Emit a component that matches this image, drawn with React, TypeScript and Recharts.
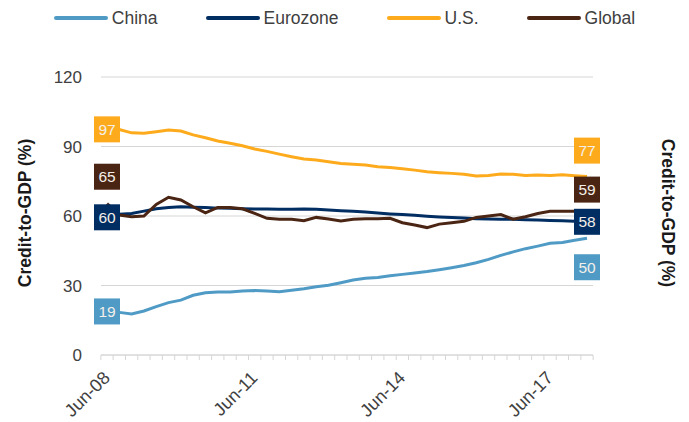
import { LineChart, Line, XAxis, YAxis, CartesianGrid, Label } from "recharts";

const quarters = [
  "Jun-08", "Sep-08", "Dec-08", "Mar-09", "Jun-09", "Sep-09", "Dec-09", "Mar-10",
  "Jun-10", "Sep-10", "Dec-10", "Mar-11", "Jun-11", "Sep-11", "Dec-11", "Mar-12",
  "Jun-12", "Sep-12", "Dec-12", "Mar-13", "Jun-13", "Sep-13", "Dec-13", "Mar-14",
  "Jun-14", "Sep-14", "Dec-14", "Mar-15", "Jun-15", "Sep-15", "Dec-15", "Mar-16",
  "Jun-16", "Sep-16", "Dec-16", "Mar-17", "Jun-17", "Sep-17", "Dec-17", "Mar-18",
];
const xTickLabels = ["Jun-08", "Jun-11", "Jun-14", "Jun-17"];
const yTicks = [0, 30, 60, 90, 120];

const china = [
  18.8, 18.4, 17.7, 19.0, 20.9, 22.6, 23.7, 25.8, 26.9, 27.2, 27.2, 27.6, 27.8,
  27.6, 27.3, 27.9, 28.6, 29.5, 30.1, 31.2, 32.4, 33.1, 33.5, 34.2, 34.8, 35.4, 36.0,
  36.8, 37.7, 38.6, 39.8, 41.3, 43.0, 44.5, 45.9, 47.0, 48.2, 48.6, 49.5, 50.4,
];
const eurozone = [
  60.3, 60.8, 61.1, 62.1, 63.1, 63.7, 64.0, 63.8, 63.7, 63.4, 63.3, 63.1, 63.0,
  63.0, 62.9, 62.9, 63.0, 62.9, 62.6, 62.3, 62.0, 61.7, 61.3, 60.9, 60.6, 60.3, 59.9,
  59.6, 59.4, 59.1, 58.8, 58.7, 58.6, 58.6, 58.4, 58.3, 58.1, 58.0, 57.7, 57.5,
];
const us = [
  97.4, 97.3, 95.9, 95.7, 96.4, 97.1, 96.7, 95.0, 93.8, 92.4, 91.4, 90.3, 88.9,
  87.9, 86.7, 85.6, 84.6, 84.2, 83.4, 82.7, 82.3, 82.0, 81.3, 80.9, 80.4, 79.8, 79.1,
  78.7, 78.4, 78.0, 77.3, 77.5, 78.1, 78.0, 77.5, 77.7, 77.5, 77.8, 77.4, 77.0,
];
const global = [
  65.3, 60.4, 59.7, 60.0, 65.0, 68.1, 66.9, 64.0, 61.4, 63.7, 63.7, 63.1, 61.1,
  59.0, 58.6, 58.6, 58.0, 59.4, 58.7, 57.8, 58.6, 58.8, 58.8, 59.0, 57.1, 56.1, 55.0,
  56.5, 57.1, 57.7, 59.4, 60.0, 60.6, 58.6, 59.7, 61.1, 62.0, 62.1, 62.0, 61.9,
];

const seriesNames = ["China", "Eurozone", "U.S.", "Global"];
const startLabels = ["19", "60", "97", "65"];
const endLabels = ["50", "58", "77", "59"];

const data = quarters.map((q, i) => ({
  q,
  china: china[i],
  eurozone: eurozone[i],
  us: us[i],
  global: global[i],
}));

// styling: colour and how far each end box is pushed off its point (px)
const series = [
  { key: "china", color: "#4f9bc6", startNudge: 0, endNudge: 29 },
  { key: "eurozone", color: "#002d62", startNudge: 2, endNudge: 0 },
  { key: "us", color: "#fdab1c", startNudge: 0, endNudge: -26 },
  { key: "global", color: "#4a2513", startNudge: -27, endNudge: -22 },
];

const FONT = '"Liberation Sans", Arial, sans-serif';
const TEXT = "#404040";
const GRID = "#d6d6d6";
const STEP = 480 / 39;

function XTick(props: any) {
  const { x, y, payload, index } = props;
  const last = index === quarters.length - 1;
  const show = xTickLabels.includes(payload.value);
  const tx = x + 4;
  const ty = y + 24;
  return (
    <g>
      <line x1={x - STEP / 2} x2={x - STEP / 2} y1={y} y2={y + 5} stroke={GRID} />
      {last && <line x1={x + STEP / 2} x2={x + STEP / 2} y1={y} y2={y + 5} stroke={GRID} />}
      {show && (
        <text
          x={tx}
          y={ty}
          textAnchor="end"
          transform={`rotate(-45 ${tx} ${ty})`}
          fontSize={18}
          fontFamily={FONT}
          fill={TEXT}
        >
          {payload.value}
        </text>
      )}
    </g>
  );
}

const endBox = (si: number) => (props: any) => {
  const { cx, cy, index } = props;
  const s = series[si];
  const lastIdx = quarters.length - 1;
  if (index !== 0 && index !== lastIdx) return <g key={`b-${si}-${index}`} />;
  const text = index === 0 ? startLabels[si] : endLabels[si];
  const y = cy + (index === 0 ? s.startNudge : s.endNudge);
  return (
    <g key={`b-${si}-${index}`}>
      <rect x={cx - 13} y={y - 13} width={26} height={26} fill={s.color} />
      <text
        x={cx}
        y={y}
        dy="0.36em"
        textAnchor="middle"
        fontSize={15.5}
        fontFamily={FONT}
        fill="#f4efe9"
      >
        {text}
      </text>
    </g>
  );
};

function AxisTitle({ viewBox, side }: any) {
  const cx = side === "left" ? viewBox.x + 25 : viewBox.x + 75;
  const cy = 213;
  const angle = side === "left" ? -90 : 90;
  return (
    <text
      x={cx}
      y={cy}
      dy="0.35em"
      textAnchor="middle"
      transform={`rotate(${angle} ${cx} ${cy})`}
      fontSize={17.5}
      fontWeight="bold"
      fontFamily={FONT}
      fill="#1a1a1a"
    >
      Credit-to-GDP (%)
    </text>
  );
}

function LegendRow() {
  return (
    <div
      style={{
        position: "absolute",
        top: 7,
        left: 0,
        width: 689,
        display: "flex",
        justifyContent: "center",
        fontFamily: FONT,
        fontSize: 17.5,
        color: TEXT,
        lineHeight: "22px",
      }}
    >
      {series.map((s, i) => (
        <div
          key={s.key}
          style={{ display: "flex", alignItems: "center", marginRight: i < series.length - 1 ? 48 : 0 }}
        >
          <span
            style={{
              display: "inline-block",
              width: 54,
              height: 4,
              borderRadius: 2,
              background: s.color,
              marginRight: 4,
            }}
          />
          <span>{seriesNames[i]}</span>
        </div>
      ))}
    </div>
  );
}

export default function App() {
  return (
    <div style={{ position: "absolute", left: 0, top: 0, width: 689, height: 422, background: "#fff", overflow: "hidden" }}>
      <LineChart
        width={689}
        height={422}
        data={data}
        margin={{ top: 77, right: 0, bottom: 0, left: 0 }}
      >
        <CartesianGrid horizontal vertical={false} stroke={GRID} yAxisId="left" />
        <XAxis
          dataKey="q"
          height={67}
          interval={0}
          padding={{ left: 6, right: 6 }}
          tickLine={false}
          tickSize={0}
          tickMargin={0}
          axisLine={{ stroke: GRID }}
          tick={<XTick />}
        />
        <YAxis
          yAxisId="left"
          width={101}
          domain={[0, 120]}
          ticks={yTicks}
          axisLine={false}
          tickLine={false}
          tickSize={0}
          tickMargin={19}
          tick={{ fontSize: 17, fontFamily: FONT, fill: TEXT }}
        >
          <Label content={(p: any) => <AxisTitle {...p} side="left" />} />
        </YAxis>
        <YAxis
          yAxisId="right"
          orientation="right"
          width={96}
          domain={[0, 120]}
          ticks={yTicks}
          axisLine={false}
          tickLine={false}
          tickSize={0}
          tickMargin={17}
          tick={{ fontSize: 17, fontFamily: FONT, fill: TEXT }}
        >
          <Label content={(p: any) => <AxisTitle {...p} side="right" />} />
        </YAxis>
        {series.map((s) => (
          <Line
            key={s.key}
            yAxisId="left"
            type="linear"
            dataKey={s.key}
            stroke={s.color}
            strokeWidth={3}
            dot={false}
            activeDot={false}
            legendType="none"
            isAnimationActive={false}
          />
        ))}
        {series.map((s, si) => (
          <Line
            key={`${s.key}-box`}
            yAxisId="left"
            type="linear"
            dataKey={s.key}
            stroke="none"
            dot={endBox(si)}
            activeDot={false}
            legendType="none"
            isAnimationActive={false}
          />
        ))}
      </LineChart>
      <LegendRow />
    </div>
  );
}
